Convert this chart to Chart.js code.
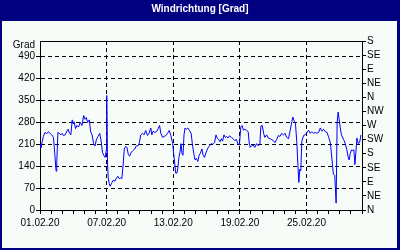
<!DOCTYPE html>
<html lang="de">
<head>
<meta charset="utf-8">
<title>Windrichtung [Grad]</title>
<script src="https://cdn.jsdelivr.net/npm/chart.js@4"></script>
<style>
  html, body { margin: 0; padding: 0; background: #000080; }
  canvas { display: block; }
</style>
</head>
<body>
<canvas id="chartWind" width="400" height="250"></canvas>
<script>
// Messwerte: Tage seit 01.02.20 und Windrichtung in Grad
const tage = [
  0, 0.09, 0.18, 0.30, 0.45, 0.61, 0.75, 0.91, 1.06, 1.21, 1.33, 1.45, 1.51, 1.61, 1.72, 1.88,
  2.00, 2.11, 2.27, 2.42, 2.54, 2.66, 2.78, 2.90, 2.99, 3.08, 3.20, 3.33, 3.47, 3.63, 3.78, 3.93,
  4.05, 4.17, 4.29, 4.44, 4.56, 4.69, 4.83, 4.96, 5.08, 5.23, 5.38, 5.51, 5.62, 5.74, 5.87, 5.99,
  6.01, 6.08, 6.14, 6.23, 6.32, 6.44, 6.59, 6.74, 6.89, 7.01, 7.14, 7.26, 7.37, 7.50, 7.59, 7.71,
  7.83, 7.95, 8.07, 8.23, 8.37, 8.53, 8.68, 8.83, 8.95, 9.07, 9.22, 9.37, 9.52, 9.68, 9.82, 9.98,
  10.07, 10.19, 10.34, 10.49, 10.64, 10.77, 10.88, 11.04, 11.18, 11.34, 11.49, 11.64, 11.79, 11.95,
  12.04, 12.13, 12.22, 12.34, 12.43, 12.52, 12.61, 12.70, 12.79, 12.88, 12.97, 13.06, 13.18, 13.31,
  13.45, 13.61, 13.72, 13.85, 13.97, 14.09, 14.21, 14.33, 14.45, 14.58, 14.69, 14.81, 14.97, 15.12,
  15.26, 15.42, 15.57, 15.72, 15.85, 15.96, 16.08, 16.21, 16.33, 16.44, 16.57, 16.69, 16.81, 16.93,
  17.08, 17.23, 17.39, 17.53, 17.69, 17.84, 17.96, 18.08, 18.20, 18.32, 18.44, 18.59, 18.75, 18.84,
  18.93, 19.05, 19.20, 19.35, 19.50, 19.65, 19.80, 19.89, 20.02, 20.14, 20.25, 20.41, 20.56, 20.71,
  20.86, 21.01, 21.16, 21.31, 21.47, 21.61, 21.77, 21.92, 22.07, 22.22, 22.38, 22.52, 22.68, 22.77,
  22.88, 23.01, 23.13, 23.22, 23.31, 23.40, 23.49, 23.58, 23.74, 23.88, 24.04, 24.19, 24.33, 24.49,
  24.64, 24.79, 24.94, 25.10, 25.24, 25.40, 25.55, 25.70, 25.85, 26.00, 26.15, 26.30, 26.42, 26.55,
  26.67, 26.76, 26.85, 26.94, 27.03, 27.15, 27.27, 27.39, 27.51, 27.64, 27.75, 27.84, 27.94, 28.05,
  28.18, 28.27, 28.36, 28.45, 28.54, 28.66, 28.78, 28.91
];
const grad = [
  212, 200, 215, 235, 248, 244, 250, 245, 240, 232, 180, 124, 150, 248, 245, 240,
  245, 238, 240, 252, 258, 245, 240, 288, 275, 282, 260, 270, 265, 280, 270, 302,
  290, 295, 280, 288, 250, 240, 212, 205, 225, 235, 245, 220, 185, 175, 168, 195,
  366, 150, 105, 85, 76, 85, 95, 92, 102, 108, 100, 103, 100, 150, 195, 203,
  200, 178, 172, 185, 190, 195, 205, 205, 215, 240, 245, 240, 254, 238, 245, 262,
  240, 252, 248, 250, 260, 270, 245, 232, 235, 238, 245, 254, 238, 212,
  180, 150, 118, 118, 140, 170, 185, 212, 180, 175, 240, 262, 258, 262,
  255, 245, 212, 180, 160, 165, 155, 175, 182, 195, 175, 168, 185, 198,
  205, 212, 210, 215, 240, 230, 225, 218, 228, 220, 240, 232, 235, 230,
  237, 232, 228, 222, 225, 210, 208, 265, 270, 255, 258, 255, 250, 215,
  200, 205, 208, 200, 212, 205, 210, 268, 270, 245, 232, 240, 230, 228,
  225, 222, 215, 225, 238, 235, 245, 240, 245, 232, 228, 252, 282, 297,
  285, 275, 215, 150, 88, 130, 125, 220, 238, 240, 248, 255, 245, 250,
  245, 248, 245, 248, 262, 252, 258, 250, 248, 232, 215, 160, 115, 110,
  22, 280, 313, 290, 265, 240, 230, 222, 210, 192, 170, 160, 180, 192,
  190, 192, 145, 185, 230, 212, 215, 240
];

// Achsenbeschriftungen
const datumLabels = ['01.02.20', '07.02.20', '13.02.20', '19.02.20', '25.02.20'];
const gradTicks = [0, 70, 140, 210, 280, 350, 420, 490];
const richtungen = ['N', 'NE', 'E', 'SE', 'S', 'SW', 'W', 'NW', 'N', 'NE', 'E', 'SE', 'S'];

const schrift = { family: 'Arial, "Liberation Sans", sans-serif', size: 10 };
const GRAD_POS = 527; // Position der Einheit "Grad" oben links

// Hintergrund, Rahmen und obere Linie
const rahmenPlugin = {
  id: 'rahmen',
  beforeDraw(chart) {
    const ctx = chart.ctx;
    ctx.save();
    ctx.fillStyle = '#000080';
    ctx.fillRect(0, 0, chart.width, chart.height);
    ctx.fillStyle = '#f8fcf8';
    ctx.fillRect(2, 21, chart.width - 5, chart.height - 23);
    ctx.restore();
  },
  afterDraw(chart) {
    const a = chart.chartArea;
    const ctx = chart.ctx;
    ctx.save();
    ctx.strokeStyle = '#000';
    ctx.lineWidth = 1;
    ctx.beginPath();
    ctx.moveTo(a.left, Math.round(a.top) + 0.5);
    ctx.lineTo(a.right, Math.round(a.top) + 0.5);
    ctx.stroke();
    ctx.restore();
  }
};

new Chart(document.getElementById('chartWind'), {
  type: 'line',
  data: {
    datasets: [{
      data: tage.map((t, i) => ({ x: t, y: grad[i] })),
      borderColor: '#0000ff',
      borderWidth: 1,
      pointRadius: 0,
      tension: 0,
      yAxisID: 'y'
    }]
  },
  options: {
    responsive: false,
    animation: false,
    devicePixelRatio: 1,
    layout: { padding: { left: 2, right: 2, bottom: 2, top: 0 } },
    plugins: {
      legend: { display: false },
      tooltip: { enabled: false },
      title: {
        display: true,
        text: 'Windrichtung [Grad]',
        color: '#ffffff',
        font: { family: schrift.family, size: 10, weight: 'bold' },
        padding: { top: 3, bottom: 26 }
      }
    },
    scales: {
      x: {
        type: 'linear',
        min: 0,
        max: 29,
        afterFit: s => { s.height = 38; },
        ticks: {
          stepSize: 1,
          autoSkip: false,
          maxRotation: 0,
          padding: 3,
          color: '#000',
          font: schrift,
          callback: v => (v % 6 === 0 ? datumLabels[v / 6] : '')
        },
        grid: {
          color: c => (c.tick && c.tick.value % 6 === 0 && c.tick.value > 0 ? '#000' : 'transparent'),
          tickColor: '#000',
          tickLength: 4
        },
        border: { color: '#000', dash: [4, 3] }
      },
      y: {
        position: 'left',
        min: 0,
        max: 540,
        afterFit: s => { s.width = 38; },
        afterBuildTicks: s => {
          s.ticks = gradTicks.map(v => ({ value: v })).concat([{ value: GRAD_POS }]);
        },
        ticks: {
          autoSkip: false,
          padding: 1,
          color: '#000',
          font: schrift,
          callback: v => (v === GRAD_POS ? 'Grad' : v)
        },
        grid: {
          color: c => (c.tick && c.tick.value > 0 && c.tick.value !== GRAD_POS ? '#000' : 'transparent'),
          tickColor: c => (c.tick && c.tick.value === GRAD_POS ? 'transparent' : '#000'),
          tickLength: 4
        },
        border: { color: '#000', dash: [4, 3] }
      },
      y2: {
        position: 'right',
        min: 0,
        max: 540,
        afterFit: s => { s.width = 36; },
        afterBuildTicks: s => {
          s.ticks = richtungen.map((r, i) => ({ value: i * 45 }));
        },
        ticks: {
          autoSkip: false,
          padding: 1,
          color: '#000',
          font: schrift,
          callback: (v, i) => richtungen[i]
        },
        grid: { drawOnChartArea: false, tickColor: '#000', tickLength: 4 },
        border: { color: '#000' }
      }
    }
  },
  plugins: [rahmenPlugin]
});
</script>
</body>
</html>
